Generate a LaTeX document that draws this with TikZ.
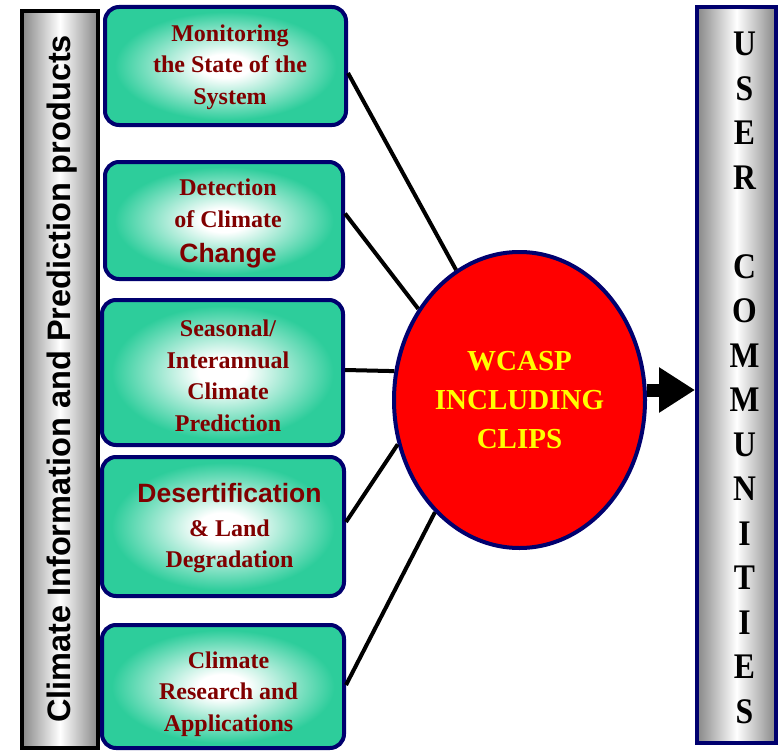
\documentclass[tikz,border=0pt]{standalone}
\usepackage{fontspec}
\setmainfont{Liberation Serif}
\setsansfont{Liberation Sans}
\newfontfamily\narrowserif[FakeStretch=0.88]{Liberation Serif Bold}
\usetikzlibrary{arrows.meta,calc,shapes.geometric}
\definecolor{navyc}{RGB}{0,0,110}
\definecolor{darkredc}{RGB}{128,0,0}
\definecolor{tealc}{RGB}{45,205,155}
\definecolor{grayc}{RGB}{135,135,135}
\definecolor{yellowc}{RGB}{255,255,0}
\definecolor{redc}{RGB}{255,0,0}
\pgfdeclareradialshading{boxshade}{\pgfpoint{0bp}{0bp}}{color(0bp)=(white); color(5bp)=(white); color(23bp)=(tealc); color(50bp)=(tealc)}
\begin{document}
\begin{tikzpicture}[x=1pt,y=-1pt,
  box/.style={rectangle, rounded corners=14pt, draw=navyc, line width=4pt, shade, shading=boxshade, inner sep=0pt},
  txt/.style={font=\bfseries\fontsize{24}{31.5}\selectfont, text=darkredc, align=center, inner sep=0pt},
  conn/.style={line width=4pt, black},
  bar/.style={rectangle, line width=4pt, left color=grayc, right color=grayc, middle color=white, inner sep=0pt}
]
\useasboundingbox (0,0) rectangle (784,752);
% left bar
\node[bar, draw=black, minimum width=76pt, minimum height=737pt] (lbar) at (60,379.5) {};
\node[rotate=90, inner sep=0pt, font=\sffamily\bfseries\fontsize{32.5}{36}\selectfont] (ltext) at (62,379) {Climate Information and Prediction products};
% right bar
\node[bar, draw=navyc, minimum width=79pt, minimum height=736pt] (rbar) at (736.5,375) {};
\node[inner sep=0pt, align=center, font=\narrowserif\fontsize{36}{44.5}\selectfont] (rtext) at (744.5,378) {U\\S\\E\\R\\[44.5pt]C\\O\\M\\M\\U\\N\\I\\T\\I\\E\\S};
% boxes
\node[box, minimum width=241pt, minimum height=118pt] (b1) at (225.5,66) {};
\node[box, minimum width=238pt, minimum height=117pt] (b2) at (224,220.5) {};
\node[box, minimum width=241pt, minimum height=145pt] (b3) at (222.5,372.5) {};
\node[box, minimum width=242pt, minimum height=139pt] (b4) at (223,526.5) {};
\node[box, minimum width=242pt, minimum height=123pt] (b5) at (223,686.5) {};
\node[txt] (t1) at (230,67) {Monitoring\\the State of the\\System};
\node[txt] (t2) at (228,223.5) {Detection\\of Climate\\[3.5pt]{\sffamily\fontsize{26.5}{31.5}\selectfont Change}};
\node[txt] (t3) at (228,376) {Seasonal/\\Interannual\\Climate\\Prediction};
\node[txt] (t4) at (229.5,528) {{\sffamily\fontsize{26.5}{31.5}\selectfont Desertification}\\[2.5pt]\&~Land\\Degradation};
\node[txt] (t5) at (228.5,694) {Climate\\Research and\\Applications};
% ellipse
\node[ellipse, draw=navyc, line width=4pt, fill=redc, minimum width=251pt, minimum height=296pt, inner sep=0pt, text=yellowc, align=center, font=\bfseries\fontsize{29}{39}\selectfont] (ell) at (519.5,400) {WCASP\\INCLUDING\\CLIPS};
% connectors
\draw[conn] ($(b1.east)+(0,7)$) -- (ell.116);
\draw[conn] ($(b2.east)+(0,-7)$) -- (ell.138);
\draw[conn] ($(b3.east)+(0,-2.5)$) -- (ell.167);
\draw[conn] ($(b4.east)+(0,-4.5)$) -- (ell.200);
\draw[conn] ($(b5.east)+(0,-1.5)$) -- (ell.233);
% arrow
\draw[line width=13pt, -{Triangle[length=36pt,width=43pt]}] ($(ell.east)+(0,-10)$) -- ($(rbar.west)+(0,15)$);
\end{tikzpicture}
\end{document}
